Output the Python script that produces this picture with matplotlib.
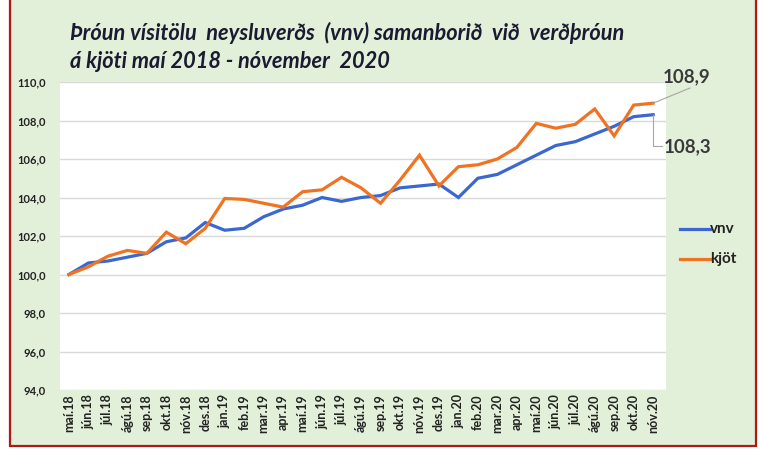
import matplotlib
matplotlib.use("Agg")
import matplotlib.pyplot as plt
from matplotlib.patches import Rectangle
from matplotlib.lines import Line2D

months = ["maí.18", "jún.18", "júl.18", "ágú.18", "sep.18", "okt.18", "nóv.18", "des.18",
          "jan.19", "feb.19", "mar.19", "apr.19", "maí.19", "jún.19", "júl.19", "ágú.19",
          "sep.19", "okt.19", "nóv.19", "des.19",
          "jan.20", "feb.20", "mar.20", "apr.20", "maí.20", "jún.20", "júl.20", "ágú.20",
          "sep.20", "okt.20", "nóv.20"]
vnv = [100.0, 100.6, 100.7, 100.9, 101.1, 101.7, 101.9, 102.7, 102.3, 102.4, 103.0, 103.4,
       103.6, 104.0, 103.8, 104.0, 104.1, 104.5, 104.6, 104.7, 104.0, 105.0, 105.2, 105.7,
       106.2, 106.7, 106.9, 107.3, 107.7, 108.2, 108.3]
kjot = [100.0, 100.4, 100.95, 101.25, 101.1, 102.2, 101.6, 102.4, 103.95, 103.9, 103.7, 103.5,
        104.3, 104.4, 105.05, 104.5, 103.7, 104.9, 106.2, 104.6, 105.6, 105.7, 106.0, 106.6,
        107.85, 107.6, 107.8, 108.6, 107.2, 108.8, 108.9]
yticks = [94, 96, 98, 100, 102, 104, 106, 108, 110]
ytick_labels = ["94,0", "96,0", "98,0", "100,0", "102,0", "104,0", "106,0", "108,0", "110,0"]
title_lines = ["Þróun vísitölu  neysluverðs  (vnv) samanborið  við  verðþróun",
               "á kjöti maí 2018 - nóvember  2020"]
end_labels = ["108,9", "108,3"]

plt.rcParams['font.family'] = ['Lato', 'DejaVu Sans']

W, H = 759, 451
fig = plt.figure(figsize=(W / 100, H / 100), dpi=100, facecolor="white")

def fx(px):
    return px / W

def fy(py):
    return 1 - py / H

# outer green panel with red frame
fig.patches.append(Rectangle((fx(10), fy(446)), fx(746), fy(-10) - fy(446),
                             transform=fig.transFigure, facecolor="#e2efd9",
                             edgecolor="#b01818", linewidth=1.6, zorder=-10))

ax = fig.add_axes([fx(60), fy(390), fx(666) - fx(60), fy(82) - fy(390)])
ax.set_zorder(2)
ax.set_facecolor("white")
x = list(range(len(months)))
ax.plot(x, vnv, color="#3a67d0", linewidth=2.3, solid_joinstyle="miter", zorder=3)
ax.plot(x, kjot, color="#f07322", linewidth=2.3, solid_joinstyle="miter", zorder=3)

ax.set_ylim(94, 110)
ax.set_xlim(-0.46, len(months) - 1 + 0.66)
ax.set_yticks(yticks)
ax.set_yticklabels(ytick_labels)
ax.set_xticks(x)
ax.set_xticklabels(months, rotation=90)
ax.grid(axis="y", color="#d9d9d9", linewidth=1.0)
ax.set_axisbelow(True)
for s in ax.spines.values():
    s.set_visible(False)
ax.tick_params(axis="both", length=0)
ax.tick_params(axis="y", pad=10, labelsize=8, labelcolor="#222222")
ax.tick_params(axis="x", pad=3, labelsize=9, labelcolor="#222222")
for lbl in ax.get_yticklabels() + ax.get_xticklabels():
    lbl.set_fontweight("bold")

# title
fig.text(fx(70), fy(33), title_lines[0], fontsize=15.7, fontweight="bold", fontstyle="italic",
         color="#1a1a30", ha="left", va="center", zorder=5)
fig.text(fx(70), fy(61), title_lines[1], fontsize=15.7, fontweight="bold", fontstyle="italic",
         color="#1a1a30", ha="left", va="center", zorder=5)

# end labels with leader lines
last = len(months) - 1
inv = fig.transFigure.inverted()
fig.canvas.draw()
pk = inv.transform(ax.transData.transform((last, kjot[-1])))
pv = inv.transform(ax.transData.transform((last, vnv[-1])))
fig.add_artist(Line2D([pk[0], fx(690)], [pk[1], fy(88)],
                      color="#a6a6a6", linewidth=0.8, transform=fig.transFigure, zorder=5))
fig.text(fx(663), fy(77), end_labels[0], fontsize=13.5, color="#3a3a3a", fontweight="bold",
         ha="left", va="center", zorder=5)
fig.add_artist(Line2D([pv[0], pv[0], fx(662)], [pv[1], fy(146), fy(146)],
                      color="#a6a6a6", linewidth=0.8, transform=fig.transFigure, zorder=5))
fig.text(fx(664), fy(147), end_labels[1], fontsize=13.5, color="#3a3a3a", fontweight="bold",
         ha="left", va="center", zorder=5)

# legend
fig.add_artist(Line2D([fx(680), fx(710)], [fy(229), fy(229)], color="#3a67d0", linewidth=2.3,
                      transform=fig.transFigure, zorder=5))
fig.text(fx(710), fy(229), "vnv", fontsize=11, fontweight="bold", color="#222222",
         ha="left", va="center", zorder=5)
fig.add_artist(Line2D([fx(680), fx(710)], [fy(259), fy(259)], color="#f07322", linewidth=2.3,
                      transform=fig.transFigure, zorder=5))
fig.text(fx(710), fy(259), "kjöt", fontsize=11, fontweight="bold", color="#222222",
         ha="left", va="center", zorder=5)

fig.savefig("out.png", dpi=100, facecolor="white")
